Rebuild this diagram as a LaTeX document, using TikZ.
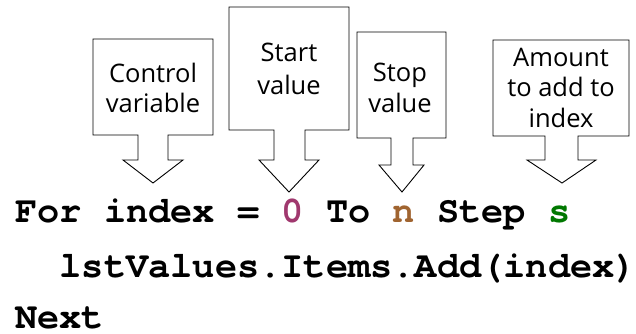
\documentclass[tikz,border=0pt]{standalone}
\usepackage{fontspec}
\setmainfont{Open Sans}
\newfontfamily\codefont{TeX Gyre Cursor}
\definecolor{startcol}{RGB}{160,56,110}
\definecolor{stopcol}{RGB}{160,100,48}
\definecolor{stepcol}{RGB}{0,120,0}
\tikzset{
  pointer/.style={draw=black, line width=0.9pt, fill=white, line join=miter},
  tag/.style={font=\fontsize{25.5}{30}\selectfont, inner sep=0pt, anchor=base},
  code/.style={font=\codefont\bfseries\fontsize{37}{37}\selectfont, inner sep=0pt, anchor=base west},
}
\begin{document}
\begin{tikzpicture}[x=1pt,y=-1pt]
\useasboundingbox (0,0) rectangle (636,334);

% Callout boxes with block arrows pointing at the code
\draw[pointer] (138,135) -- (93,135) -- (93,39) -- (213,39) -- (213,135) -- (168,135)
  -- (168,160) -- (183,160) -- (153,183) -- (123,160) -- (138,160) -- cycle;
\draw[pointer] (274,130) -- (229,130) -- (229,7) -- (349,7) -- (349,130) -- (305,130)
  -- (305,160) -- (319,160) -- (289,192) -- (259,160) -- (274,160) -- cycle;
\draw[pointer] (391,138) -- (357,138) -- (357,32) -- (446,32) -- (446,138) -- (413,138)
  -- (413,165) -- (424,165) -- (402,192) -- (379,165) -- (391,165) -- cycle;
\draw[pointer] (545,136) -- (493,136) -- (493,40) -- (629,40) -- (629,136) -- (578,136)
  -- (578,160) -- (596,160) -- (562,183) -- (527,160) -- (545,160) -- cycle;

% Callout labels
\node[tag] (ctrlA) at (153,83) {Control};
\node[tag] (ctrlB) at (153,113) {variable};
\node[tag] (startA) at (289,62) {Start};
\node[tag] (startB) at (289,95) {value};
\node[tag] (stopA) at (400,82) {Stop};
\node[tag] (stopB) at (400,113) {value};
\node[tag] (stepA) at (561,67) {Amount};
\node[tag] (stepB) at (561,97) {to add to};
\node[tag] (stepC) at (561,128) {index};

% The loop
\node[code] (line1) at (15,222) {For index = {\color{startcol}0} To {\color{stopcol}n} Step {\color{stepcol}s}};
\node[code] (line2) at (59.4,277) {lstValues.Items.Add(index)};
\node[code] (line3) at (15,328) {Next};
\end{tikzpicture}
\end{document}
